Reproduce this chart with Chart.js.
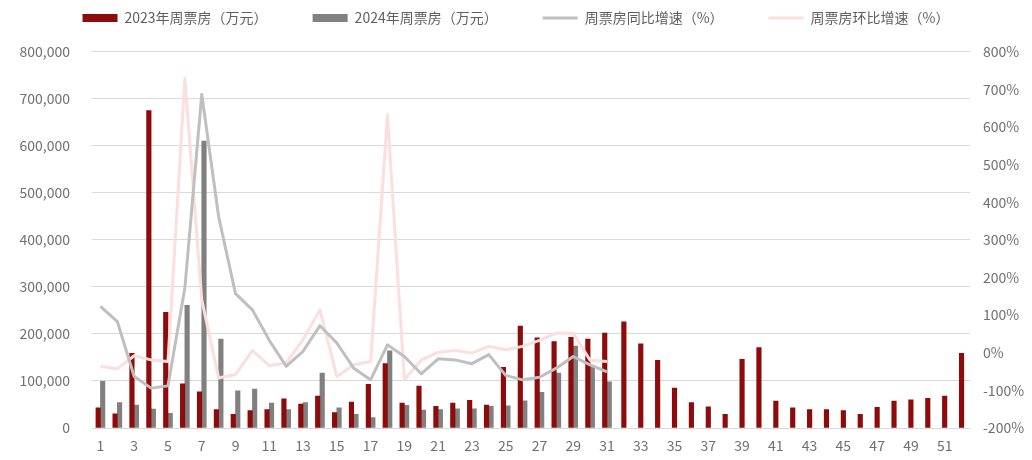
<!DOCTYPE html>
<html>
<head>
<meta charset="utf-8">
<script src="https://cdn.jsdelivr.net/npm/chart.js@4.4.1/dist/chart.umd.min.js"></script>
<style>
  html, body { margin: 0; padding: 0; background: #ffffff; }
  #wrap { position: relative; width: 1032px; height: 460px; }
</style>
</head>
<body>
<div id="wrap"><canvas id="c"></canvas></div>
<script>
// ---- data ----
const weeks = Array.from({length: 52}, (_, i) => String(i + 1));

// 2023 weekly box office (万元)
const box2023 = [
  43000, 30000, 159000, 675000, 246000, 94000, 77000, 39000, 29000, 37000,
  39000, 62000, 51000, 68000, 33000, 55000, 93000, 137000, 53000, 89000,
  46000, 53000, 59000, 49000, 129000, 217000, 192000, 184000, 193000, 189000,
  202000, 226000, 179000, 144000, 85000, 54000, 45000, 29000, 146000, 171000,
  57000, 43000, 39000, 39000, 37000, 29000, 44000, 57000, 60000, 63000,
  68000, 159000
];

// 2024 weekly box office (万元), weeks 1-31
const box2024 = [
  99000, 54000, 49000, 40000, 31000, 261000, 610000, 189000, 79000, 83000,
  53000, 39000, 54000, 117000, 43000, 29000, 22000, 164000, 48000, 38000,
  39000, 41000, 41000, 46000, 47000, 58000, 76000, 117000, 174000, 131000,
  98000
];

// YoY growth (%)
const yoy = [
  123, 83, -63, -94, -88, 172, 687, 362, 157, 114,
  33, -36, 4, 72, 26, -41, -72, 21, -10, -56,
  -16, -19, -29, -5, -60, -72, -65, -41, -10, -32,
  -51
];

// WoW growth (%)
const wow = [
  -36, -43, -8, -19, -23, 729, 141, -67, -58, 6,
  -34, -27, 35, 114, -63, -32, -23, 632, -72, -19,
  1, 6, -1, 17, 8, 17, 33, 52, 52, -20,
  -23
];

const seriesNames = ['2023年周票房（万元）', '2024年周票房（万元）', '周票房同比增速（%）', '周票房环比增速（%）'];
const leftTicks = [0, 800000, 100000];   // min, max, step
const rightTicks = [-200, 800, 100];     // min, max, step

const pad = (arr) => weeks.map((_, i) => (i < arr.length ? arr[i] : null));

const RED = '#8E0B0B';
const GRAYBAR = '#808080';
const GRAYLINE = '#BFBFBF';
const PINK = '#FDDEDE';
const TXT = '#5F5F5F';
const TICK = '#707070';
const FONT = '"Noto Sans CJK SC", "Noto Sans", sans-serif';

const chart = new Chart(document.getElementById('c'), {
  type: 'bar',
  data: {
    labels: weeks,
    datasets: [
      {
        type: 'bar', label: seriesNames[0], data: box2023,
        backgroundColor: RED, barThickness: 4.5, skipNull: true,
        yAxisID: 'y', order: 3
      },
      {
        type: 'bar', label: seriesNames[1], data: pad(box2024),
        backgroundColor: GRAYBAR, barThickness: 4.5, skipNull: true,
        yAxisID: 'y', order: 4
      },
      {
        type: 'line', label: seriesNames[2], data: pad(yoy),
        borderColor: GRAYLINE, borderWidth: 3, pointRadius: 0, pointHoverRadius: 0,
        tension: 0, borderJoinStyle: 'round', fill: false, spanGaps: false,
        yAxisID: 'y1', order: 1
      },
      {
        type: 'line', label: seriesNames[3], data: pad(wow),
        borderColor: PINK, borderWidth: 3, pointRadius: 0, pointHoverRadius: 0,
        tension: 0, borderJoinStyle: 'round', fill: false, spanGaps: false,
        yAxisID: 'y1', order: 2
      }
    ]
  },
  options: {
    responsive: true,
    maintainAspectRatio: false,
    animation: false,
    layout: { padding: { top: -34, left: 0, right: 0, bottom: 0 } },
    plugins: {
      tooltip: { enabled: false },
      title: { display: true, text: '', weight: 1, padding: 0, font: { size: 14 } },
      legend: {
        position: 'top',
        align: 'center',
        labels: {
          usePointStyle: true,
          pointStyleWidth: 35,
          boxHeight: 8,
          padding: 45,
          color: TXT,
          font: { family: FONT, size: 14 },
          generateLabels: (ch) => ch.data.datasets.map((ds, i) => {
            const isLine = ds.type === 'line';
            return {
              text: ds.label,
              fillStyle: isLine ? 'rgba(0,0,0,0)' : ds.backgroundColor,
              strokeStyle: isLine ? ds.borderColor : ds.backgroundColor,
              lineWidth: isLine ? 3 : 0,
              lineCap: 'butt',
              pointStyle: isLine ? 'line' : 'rect',
              fontColor: TXT,
              hidden: false,
              datasetIndex: i
            };
          })
        }
      }
    },
    scales: {
      x: {
        offset: true,
        grid: { display: false },
        border: { display: false },
        ticks: {
          autoSkip: false, maxRotation: 0, minRotation: 0, padding: 1,
          color: TICK, font: { family: FONT, size: 14 },
          callback: function (v, i) { return i % 2 === 0 ? weeks[i] : ''; }
        },
        afterFit: (s) => { s.height = 32; }
      },
      y: {
        position: 'left',
        min: leftTicks[0], max: leftTicks[1],
        grid: { color: '#D9D9D9', lineWidth: 1, drawTicks: false },
        border: { display: false },
        ticks: {
          stepSize: leftTicks[2], padding: 22,
          color: TICK, font: { family: FONT, size: 14 },
          callback: (v) => v.toLocaleString('en-US')
        },
        afterFit: (s) => { s.width = 92; }
      },
      y1: {
        position: 'right',
        min: rightTicks[0], max: rightTicks[1],
        grid: { display: false, drawTicks: false },
        border: { display: false },
        ticks: {
          stepSize: rightTicks[2], padding: 13,
          color: TICK, font: { family: FONT, size: 14 },
          callback: (v) => v + '%'
        },
        afterFit: (s) => { s.width = 62; }
      }
    }
  }
});
</script>
</body>
</html>
